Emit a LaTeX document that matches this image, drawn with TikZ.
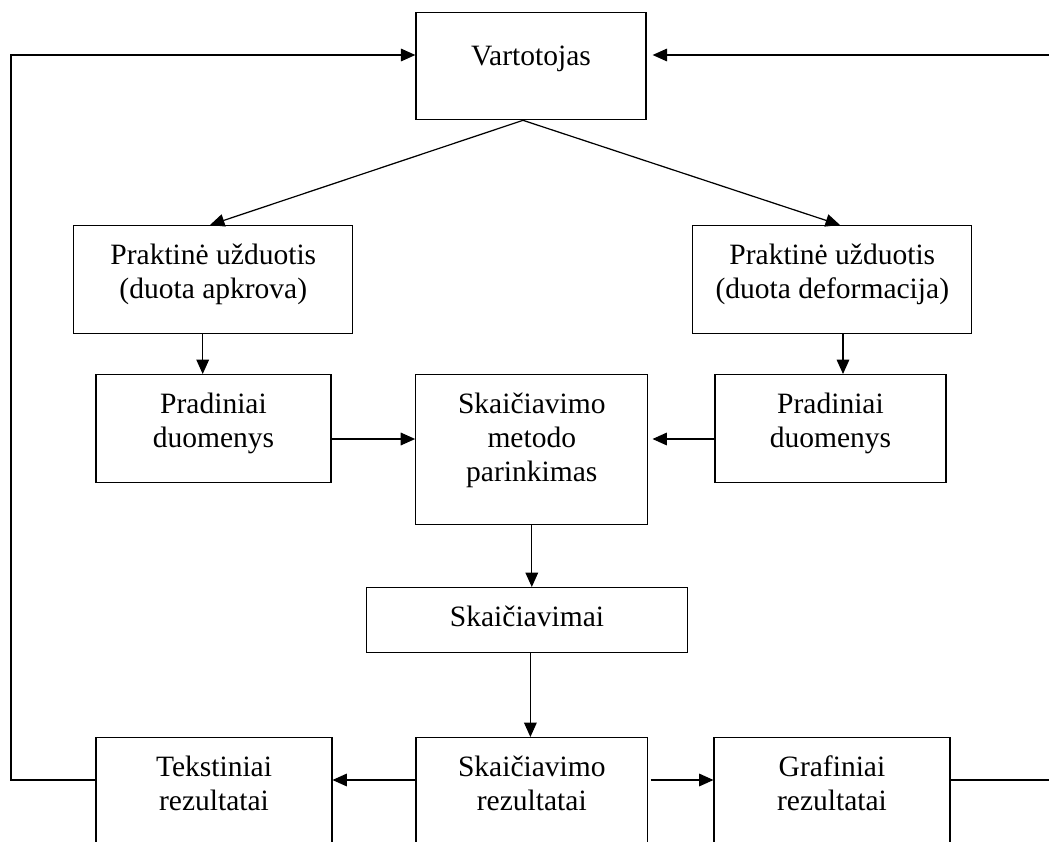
\documentclass[tikz,border=0pt]{standalone}
\usepackage{fontspec}
\setmainfont{Liberation Serif}
\usetikzlibrary{arrows.meta,calc}

\newlength\pxu
\setlength\pxu{0.02cm}
% laukelio tekstas: [pirmos eilutės bazinė linija]{plotis}{aukštis}{tekstas}
\newcommand{\blktext}[4][38.5]{\parbox[c][#3\pxu][t]{#2\pxu}{\centering\rule{0pt}{#1\pxu}#4}}

\tikzset{
  blk/.style={draw, line width=0.75pt, inner sep=0pt, anchor=north,
    font=\fontsize{16.8}{19.45}\selectfont},
  link/.style={line width=0.7pt}
}

\begin{document}
\begin{tikzpicture}[>={Triangle[length=8.2pt,width=7.2pt]}, x=0.02cm, y=-0.02cm]

\useasboundingbox (0,0) rectangle (1049,842);
\clip (0,0) rectangle (1049,842);

%--- Vartotojas ---
\node[blk] (user) at (531,12) {\blktext[53]{230}{107}{Vartotojas}};

%--- Praktinės užduotys ---
\node[blk] (taskL) at (213.3,225) {\blktext{279}{108}{Praktinė užduotis\\(duota apkrova)}};
\node[blk] (taskR) at (832.3,225) {\blktext{279}{108}{Praktinė užduotis\\(duota deformacija)}};

%--- Pradiniai duomenys ir metodas ---
\node[blk] (dataL) at (213.5,374) {\blktext{235}{108}{Pradiniai\\duomenys}};
\node[blk] (method) at (531.8,374) {\blktext{232}{150}{Skaičiavimo\\metodo\\parinkimas}};
\node[blk] (dataR) at (830.5,374) {\blktext{231}{108}{Pradiniai\\duomenys}};

\node[blk] (calc) at (527,587) {\blktext{320.6}{65}{Skaičiavimai}};

%--- Rezultatai (apačia nukirsta) ---
\foreach \nm/\xc/\w/\txt in {resT/214/235.7/{Tekstiniai\\rezultatai},
                             resC/531.8/231.7/{Skaičiavimo\\rezultatai},
                             resG/832/235.7/{Grafiniai\\rezultatai}}{
  \node[blk] (\nm) at (\xc,737) {\blktext{\w}{150}{\txt}};
}

%--- Rodyklės ---
\draw[->, link] ($(user.south)+(-8,0)$) -- ($(taskL.north)+(-3.3,0)$);
\draw[->, link] ($(user.south)+(-8,0)$) -- ($(taskR.north)+(7.7,0)$);

\draw[->, link] ($(taskL.south)+(-10.6,0)$) coordinate (d1) -- (d1 |- dataL.north);
\draw[->, link] ($(taskR.south)+(10.7,0)$) coordinate (d2) -- (d2 |- dataR.north);

\draw[->, link] ($(dataL.north east)+(0,65)$) coordinate (h1) -- (h1 -| method.west);
\draw[->, link, shorten >=2.3pt] ($(dataR.north west)+(0,65)$) coordinate (h2) -- (h2 -| method.east);

\draw[->, link] (method.south) -- (method.south |- calc.north);
\draw[->, link] ($(resC.north)+(-1.4,0)$) coordinate (d3) (d3 |- calc.south) -- (d3);

\draw[->, link] ($(resC.north west)+(0,43)$) coordinate (h3) -- (h3 -| resT.east);
\draw[->, link, shorten <=1.3pt] ($(resC.north east)+(0,43)$) coordinate (h4) -- (h4 -| resG.west);

%--- Grįžtamieji ryšiai ---
\coordinate (railL) at (11,0);
\coordinate (railR) at (1062,0);
\coordinate (u1) at ($(user.north west)+(0,43)$);
\coordinate (u2) at ($(user.north east)+(0,43)$);

\draw[->, link] ($(resT.north west)+(0,43)$) coordinate (f1)
  -- (f1 -| railL) -- (railL |- u1) -- (u1);
\draw[->, link, shorten >=3.4pt] ($(resG.north east)+(0,43)$) coordinate (f2)
  -- (f2 -| railR) -- (railR |- u2) -- (u2);

\end{tikzpicture}
\end{document}
